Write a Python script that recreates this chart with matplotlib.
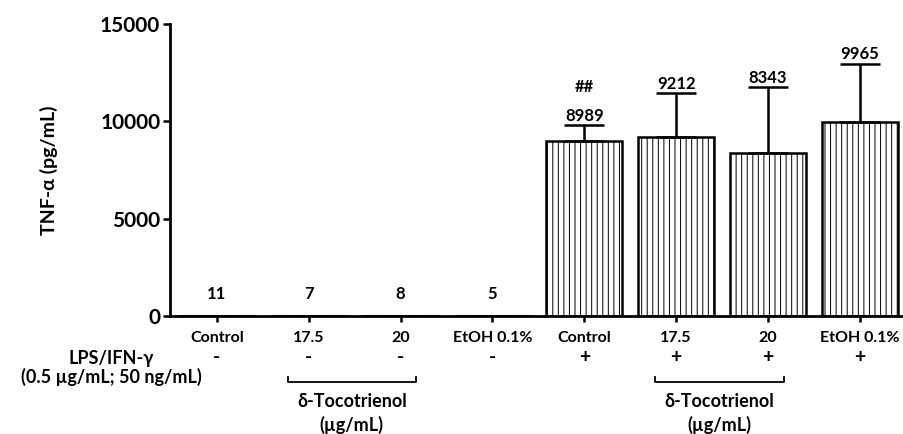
import matplotlib
matplotlib.use("Agg")
import matplotlib.pyplot as plt

plt.rcParams['font.family'] = ['Lato', 'DejaVu Sans']
plt.rcParams['font.weight'] = 'bold'
plt.rcParams['axes.labelweight'] = 'bold'
plt.rcParams['hatch.linewidth'] = 0.7
plt.rcParams['hatch.color'] = '#555555'

# data
categories = ['Control', '17.5', '20', 'EtOH 0.1%', 'Control', '17.5', '20', 'EtOH 0.1%']
lps = ['-', '-', '-', '-', '+', '+', '+', '+']
means = [11, 7, 8, 5, 8989, 9212, 8343, 9965]
sd = [0, 0, 0, 0, 820, 2240, 3420, 2980]
marks = ['', '', '', '', '##', '', '', '']

fig = plt.figure(figsize=(9.04, 4.34), dpi=100)
ax = fig.add_axes([0.188, 0.272, 0.812, 0.673])

x = list(range(len(categories)))
ax.bar(x, means, width=0.83, color='white', edgecolor='black', linewidth=1.8,
       hatch='|||', zorder=2)
ax.errorbar(x, means, yerr=[[0] * len(sd), sd], fmt='none', ecolor='black',
            elinewidth=1.8, capsize=14.5, capthick=1.8, zorder=3)

for xi, m, s, mk in zip(x, means, sd, marks):
    off = 1 if s > 0 else 10
    lbl = f'{m}' if not mk else f'{mk}\n{m}'
    ax.annotate(lbl, (xi, m + s), xytext=(0, off), textcoords='offset points',
                ha='center', va='bottom', fontsize=12, linespacing=2.0)

ax.set_ylim(0, 15000)
ax.set_xlim(-0.51, 7.48)
ax.set_yticks([0, 5000, 10000, 15000])
ax.set_xticks(x)
ax.set_xticklabels(categories, fontsize=11.5)
ax.tick_params(axis='y', labelsize=15, width=1.8, length=5, pad=2)
ax.tick_params(axis='x', width=1.8, length=4, pad=7)
for side in ['top', 'right']:
    ax.spines[side].set_visible(False)
for side in ['left', 'bottom']:
    ax.spines[side].set_linewidth(2)
ax.set_ylabel('TNF-α (pg/mL)', fontsize=14, labelpad=30)

tr = ax.get_xaxis_transform()
for xi, sg in zip(x, lps):
    ax.text(xi, -0.142, sg, transform=tr, ha='center', va='center', fontsize=14)
ax.text(-1.15, -0.178, 'LPS/IFN-γ\n(0.5 µg/mL; 50 ng/mL)', transform=tr,
        ha='center', va='center', fontsize=13, linespacing=1.05)

for a, b in [(1, 2), (5, 6)]:
    x0, x1 = a - 0.23, b + 0.17
    ax.plot([x0, x0, x1, x1], [-0.208, -0.226, -0.226, -0.208], transform=tr,
            color='black', lw=1.3, clip_on=False)
    ax.text((x0 + x1) / 2, -0.292, 'δ-Tocotrienol', transform=tr,
            ha='center', va='center', fontsize=13)
    ax.text((x0 + x1) / 2, -0.372, '(µg/mL)', transform=tr,
            ha='center', va='center', fontsize=13)

fig.savefig('out.png', dpi=100)
